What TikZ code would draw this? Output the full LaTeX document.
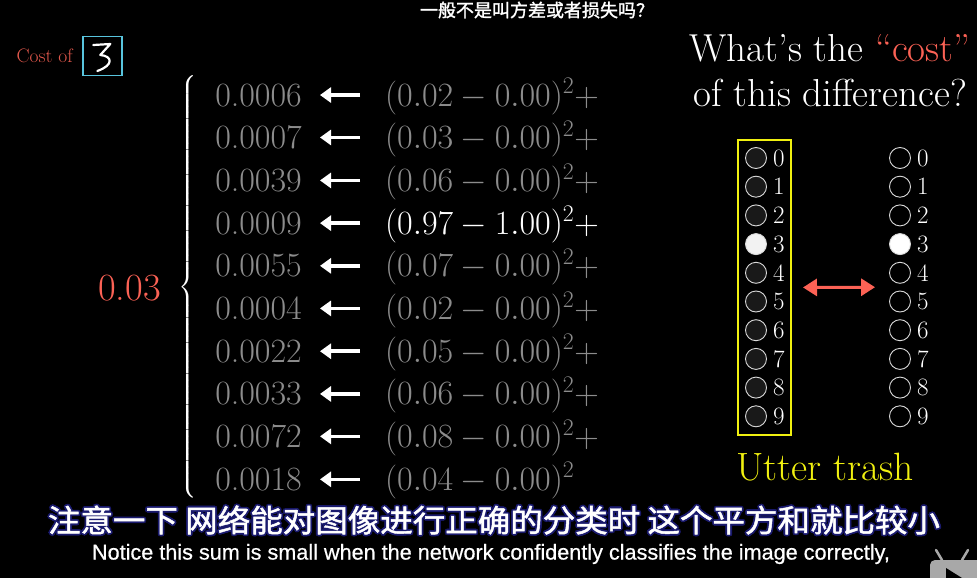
\documentclass[tikz,border=0pt]{standalone}
\usepackage{fix-cm}
\usepackage{amsmath}
\usepackage{fontspec}
\usepackage{graphicx}
\usetikzlibrary{arrows.meta,positioning,calc}
\newfontfamily\cjk{Noto Sans CJK SC}[FakeBold=1.5]
\newfontfamily\subfont{Liberation Sans}[FakeBold=0.6]
\definecolor{costred}{HTML}{FC6255}
\definecolor{numgray}{HTML}{8C8C8C}
\definecolor{trashyellow}{HTML}{F0F010}
\definecolor{boxblue}{HTML}{58C4DD}
\definecolor{subnavy}{HTML}{1A1A6E}
\definecolor{iconbg}{HTML}{A8A8A8}

\begin{document}
\begin{tikzpicture}[x=1pt, y=-1pt,
    val/.style={anchor=base east, inner sep=0pt, text=numgray, font=\fontsize{34}{40}\selectfont},
    expr/.style={anchor=base west, inner sep=0pt, font=\fontsize{34}{40}\selectfont},
    back/.style={-{Triangle[length=11pt, width=15pt]}, line width=3.5pt, white, shorten <=25pt, shorten >=18pt},
    neuron/.style={circle, draw=white!85!black, line width=0.9pt, minimum size=21pt, inner sep=0pt},
    digit/.style={anchor=west, inner sep=0pt, text=white, font=\fontsize{25}{30}\selectfont},
    dblarr/.style={{Triangle[length=14pt, width=17pt]}-{Triangle[length=14pt, width=17pt]}, line width=3pt, costred, shorten <=11pt, shorten >=14pt},
    subcn/.style={inner sep=0pt, font=\cjk\fontsize{31}{36}\selectfont},
  ]
  \fill[black] (0,0) rectangle (977,578);
  \useasboundingbox (0,0) rectangle (977,578);

  % caption on top
  \node[text=white, font=\cjk\fontsize{18}{22}\selectfont] (topcap) at (537,10) {一般不是叫方差或者损失吗？};

  % cost of the handwritten digit
  \node[text=costred!90!black, font=\fontsize{19.5}{23}\selectfont, anchor=east, inner sep=0pt] (costof) at (73,56) {Cost of};
  \node[draw=boxblue, line width=1.6pt, minimum size=39pt, inner sep=0pt, right=9pt of costof] (digitbox) {};
  \draw[white, line width=2.2pt, line cap=round, line join=round, shift={(digitbox.center)}]
    (-9,-11) -- (8,-12) -- (-2,-1) .. controls (10,0) and (12,9) .. (-5,15);

  % squared differences
  \foreach \v/\a/\b [count=\i from 0] in {0.0006/0.02/0.00, 0.0007/0.03/0.00, 0.0039/0.06/0.00,
      0.0009/0.97/1.00, 0.0055/0.07/0.00, 0.0004/0.02/0.00, 0.0022/0.05/0.00,
      0.0033/0.06/0.00, 0.0072/0.08/0.00, 0.0018/0.04/0.00} {
    \pgfmathsetmacro\ry{106+42.7*\i}
    \ifnum\i=3 \def\rowcol{white}\else\def\rowcol{numgray}\fi
    \node[val] (val\i) at (302,\ry) {\v};
    \node[expr, text=\rowcol] (expr\i) at (385,\ry) {$(\a - \b)^2\ifnum\i<9 +\fi$};
    \draw[back] (expr\i.west |- val\i.east) -- (val\i.east);
  }

  % total
  \node[inner sep=0pt, text=white, font=\fontsize{22}{26}\selectfont] (brace) at (188,287) {$\left\{\rule[-205pt]{0pt}{410pt}\right.$};
  \node[text=costred, font=\fontsize{38.5}{44}\selectfont, anchor=east, inner sep=0pt] (total) at (161,288) {0.03};

  % question
  \node[text=white, align=center, font=\fontsize{39}{45}\selectfont, inner sep=0pt] (question) at (830,71)
    {What's the \textcolor{costred}{``cost''}\\of this difference?};

  % network output and desired output
  \foreach \i in {0,...,9} {
    \pgfmathsetmacro\ny{158+28.7*\i}
    \ifnum\i=3 \def\nfill{white!95!black}\else\def\nfill{black!90!white}\fi
    \node[neuron, fill=\nfill] (out\i) at (756,\ny) {};
    \node[digit, right=6pt of out\i] (outd\i) {\i};
    \ifnum\i=3 \def\nfill{white}\else\def\nfill{black}\fi
    \node[neuron, fill=\nfill] (tgt\i) at (900,\ny) {};
    \node[digit, right=6pt of tgt\i] (tgtd\i) {\i};
  }
  \node[draw=trashyellow, line width=2pt, minimum width=53pt, minimum height=295pt, inner sep=0pt] (outbox) at (764.5,287.5) {};
  \draw[dblarr] (outbox.east) -- ($(tgt4.west)!0.5!(tgt5.west)$);
  \node[text=trashyellow, font=\fontsize{39.5}{45}\selectfont, inner sep=0pt] (verdict) at (825,467) {Utter trash};

  % subtitles
  \foreach \dx/\dy [count=\k] in {-1.8/0, 1.8/0, 0/-1.8, 0/1.8, -1.3/-1.3, 1.3/-1.3, -1.3/1.3, 1.3/1.3} {
    \node[subcn, text=subnavy] (cnshade\k) at ($(494,520)+(\dx,\dy)$)
      {\resizebox{892pt}{\height}{注意一下 网络能对图像进行正确的分类时 这个平方和就比较小}};
  }
  \node[subcn, text=white] (cnsub) at (494,520)
    {\resizebox{892pt}{\height}{注意一下 网络能对图像进行正确的分类时 这个平方和就比较小}};
  \node[text=white, inner sep=0pt, font=\subfont\fontsize{21.5}{24}\selectfont] (ensub) at (491,554)
    {\resizebox{798pt}{\height}{Notice this sum is small when the network confidently classifies the image correctly,}};

  % player icon
  \fill[iconbg, rounded corners=5pt] (930,560) rectangle (985,600);
  \draw[iconbg, line width=2.5pt, line cap=round] (942,560) -- (936,550) (962,560) -- (968,550);
  \fill[black] (946,568) -- (946,585) -- (962,578) -- cycle;
\end{tikzpicture}
\end{document}
